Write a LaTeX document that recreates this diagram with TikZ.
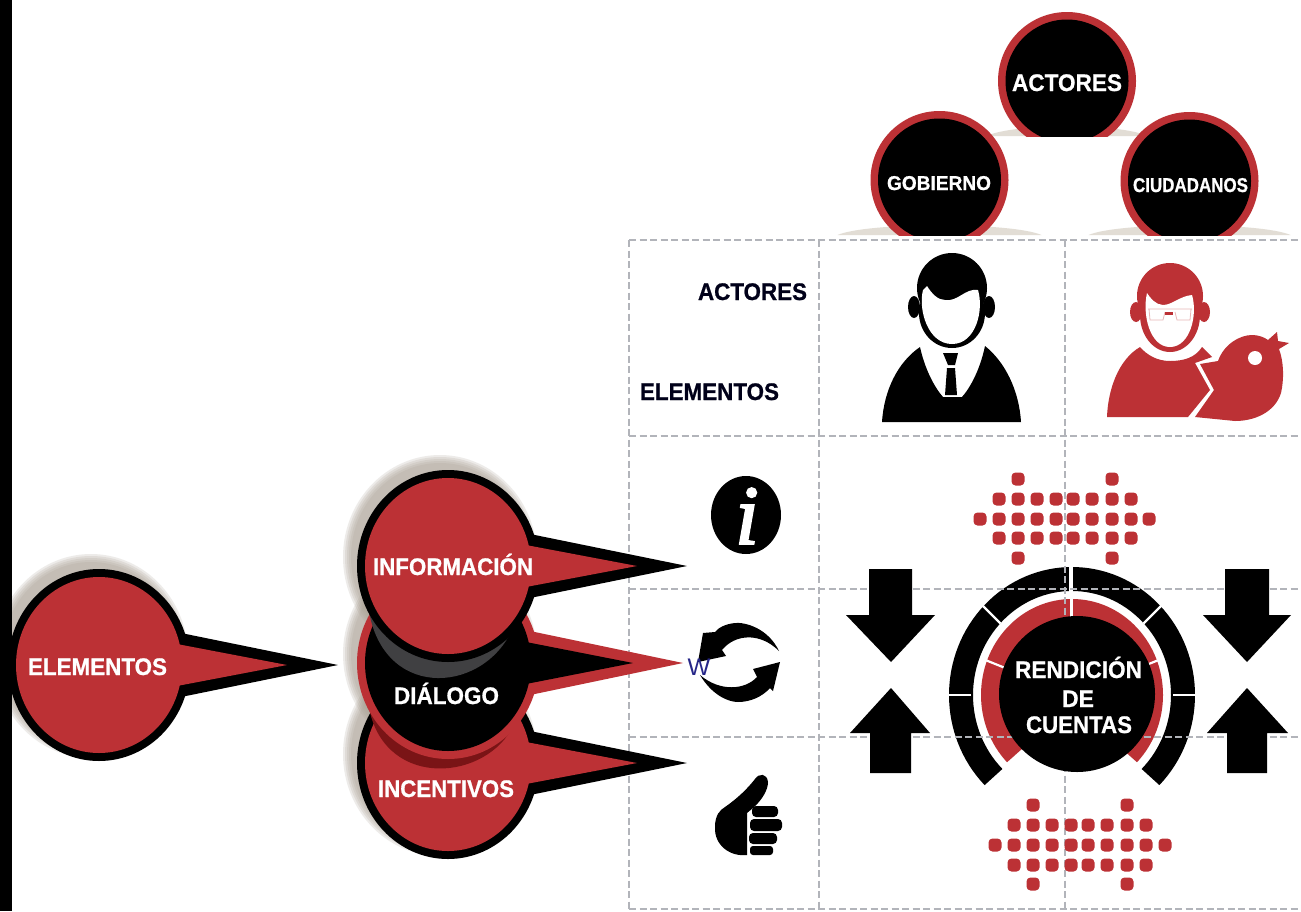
\documentclass[tikz,border=0pt]{standalone}
\usepackage{graphicx}
\usepackage{fontspec}
\usetikzlibrary{calc}
\setmainfont{Liberation Sans}[BoldFeatures={FakeBold=0.8}]
\newfontfamily\iconserif{Liberation Serif}[ItalicFeatures={FakeBold=2.5}]
\definecolor{rojo}{HTML}{BC3135}
\definecolor{rojoosc}{HTML}{7A1416}
\definecolor{grisosc}{HTML}{404042}
\definecolor{rejilla}{HTML}{B2B4BA}
\definecolor{sombra}{HTML}{A89F92}
\definecolor{base}{HTML}{E2DDD5}
% cx cy outer inner tipx innertipx
\newcommand\bubshadow[2]{%
  \foreach \d in {6,4,2,0,-2}{\fill[sombra,opacity=.2] ({#1-8},{#2-9}) ellipse [x radius={91+\d},y radius={96+\d}];}}
\newcommand\bubbody[6]{%
  \fill[#3] (#1,#2) ellipse [x radius=91,y radius=96];
  \fill[#3] ({#1+82},{#2-32}) -- (#5,#2) -- ({#1+82},{#2+32}) -- cycle;
  \fill[#4] (#1,#2) ellipse [x radius=83,y radius=88];
  \fill[#4] ({#1+78},{#2-21}) -- (#6,#2) -- ({#1+78},{#2+21}) -- cycle;}
\newcommand\fitw[2]{\resizebox{#1pt}{\height}{#2}}
\newcommand\topcirc[4]{% cx cy clipy base half-width
  \fill[base] ({#1-#4},#3) .. controls ({#1-#4+30},{#3-13}) and ({#1+#4-30},{#3-13}) .. ({#1+#4},#3) -- cycle;
  \begin{scope}
    \clip ({#1-80},0) rectangle ({#1+80},#3);
    \fill[rojo] (#1,#2) circle (69);
    \fill[black] (#1,#2) circle (61.5);
  \end{scope}}
\tikzset{
  lblw/.style={anchor=base,inner sep=0pt,text=white,font=\fontsize{#1}{#1}\selectfont\bfseries},
  lblk/.style={anchor=base,inner sep=0pt,text=black!90!blue,font=\fontsize{#1}{#1}\selectfont\bfseries},
  gridline/.style={draw=rejilla,line width=1.3pt,dash pattern=on 7pt off 3.5pt},
  dotcell/.style={fill=rojo,rounded corners=4pt},
  tick/.style={draw=white,line width=2.2pt},
}
\begin{document}
\begin{tikzpicture}[x=1pt,y=-1pt]
\useasboundingbox (0,0) rectangle (1301,911);
\fill[white] (0,0) rectangle (1301,911);

% gauge rings
\coordinate (gc) at (1072,695);
\draw[black,line width=24pt] ($(gc)+(135:111 and 116)$) arc [start angle=135,end angle=405,x radius=111,y radius=116];
\draw[rojo,line width=31pt] ($(gc)+(135:75.5 and 80.5)$) arc [start angle=135,end angle=405,x radius=75.5,y radius=80.5];
\foreach \a in {225,180,315,0}{\draw[tick] ($(gc)+(\a:101)$) -- ($(gc)+(\a:130)$);}
\draw[white,line width=4pt] (1071,566) -- (1071,594);
\draw[white,line width=3pt] (1071,596) -- (1071,630);
\foreach \a in {202,338}{\draw[tick] ($(gc)+(\a:60)$) -- ($(gc)+(\a:93)$);}

% grid
\foreach \y in {240,436,589,737,909}{\draw[gridline] (629,\y) -- (1301,\y);}
\foreach \x in {629,819,1065}{\draw[gridline] (\x,240) -- (\x,909);}

% central disc
\fill[black] (1077,694) circle (78);

% block arrows
\fill[black] (869,569) -- (912,569) -- (912,615) -- (935,615) -- (891,662) -- (846,615) -- (869,615) -- cycle;
\fill[black] (870,773) -- (911,773) -- (911,733) -- (930,733) -- (891,688) -- (850,733) -- (870,733) -- cycle;
\fill[black] (1225,569) -- (1269,569) -- (1269,615) -- (1291,615) -- (1247,662) -- (1203,615) -- (1225,615) -- cycle;
\fill[black] (1227,773) -- (1267,773) -- (1267,733) -- (1288,733) -- (1247,688) -- (1207,733) -- (1227,733) -- cycle;

% dot clusters
\foreach \x/\y in {1018/479,1112/479,
  999/499,1018/499,1037/499,1056/499,1073/499,1092/499,1112/499,1131/499,
  980/519,999/519,1018/519,1037/519,1056/519,1073/519,1092/519,1112/519,1131/519,1149/519,
  999/538,1018/538,1037/538,1056/538,1073/538,1092/538,1112/538,1131/538,
  1018/558,1112/558,
  1033/805,1127/805,
  1014/825,1033/825,1052/825,1071/825,1088/825,1107/825,1127/825,1146/825,
  995/845,1014/845,1033/845,1052/845,1071/845,1088/845,1107/845,1127/845,1146/845,1165/845,
  1014/865,1033/865,1052/865,1071/865,1088/865,1107/865,1127/865,1146/865,
  1033/884,1127/884}{
  \fill[dotcell] ({\x-6.5},{\y-6.5}) rectangle ({\x+6.5},{\y+6.5});
}

% top circles
\topcirc{1067}{81}{136}{81}
\topcirc{939.5}{180}{235}{102}
\topcirc{1189.5}{181}{235}{101}

% businessman
\fill[black] (914,307) ellipse [x radius=6,y radius=11];
\fill[black] (989,307) ellipse [x radius=6,y radius=11];
\fill[black] (952,288) circle (35);
\fill[black] (952,313) ellipse [x radius=33,y radius=35];
\fill[white] (927,286) .. controls (932,294) and (938,300) .. (945,300)
  .. controls (958,302) and (965,288) .. (978,290)
  .. controls (984,310) and (976,344) .. (952,344)
  .. controls (928,344) and (918,310) .. (923,290) -- cycle;
\fill[black] (920,347) .. controls (898,362) and (884,390) .. (882,422) -- (1021,422)
  .. controls (1019,390) and (1005,362) .. (985,346) .. controls (980,370) and (970,388) .. (962,397)
  -- (943,397) .. controls (935,388) and (925,370) .. (920,347) -- cycle;
\fill[black] (943,353) -- (958,353) -- (955,365) -- (948,365) -- cycle;
\fill[black] (947,368) -- (955,368) -- (957,395) -- (945,395) -- cycle;

% citizen
\fill[rojo] (1136,312) ellipse [x radius=6,y radius=10];
\fill[rojo] (1204,312) ellipse [x radius=6,y radius=10];
\fill[rojo] (1170,296) circle (33);
\fill[rojo] (1170,315) ellipse [x radius=30,y radius=37];
\fill[white] (1147,293) .. controls (1150,298) and (1156,305) .. (1163,305)
  .. controls (1172,305) and (1180,296) .. (1192,295)
  .. controls (1198,315) and (1190,347) .. (1170,347)
  .. controls (1150,347) and (1142,315) .. (1147,293) -- cycle;
\draw[rojo!35,line width=.8pt] (1148,309) -- (1192,309) (1149,309) -- (1150,320) -- (1163,320) -- (1165,312) (1191,309) -- (1190,320) -- (1177,320) -- (1175,312);
\fill[rojo] (1165,312) rectangle (1173,315);
\fill[rojo] (1140,347) .. controls (1118,360) and (1108,390) .. (1107,417) -- (1188,417) -- (1210,390) -- (1195,363) -- (1212,357) -- (1202,347)
  .. controls (1195,358) and (1183,361) .. (1170,361) .. controls (1157,361) and (1147,355) .. (1140,347) -- cycle;
\fill[rojo] (1200,364) -- (1218,361) .. controls (1224,344) and (1240,335) .. (1252,335)
  .. controls (1258,335) and (1264,337) .. (1268,340) -- (1277,332) -- (1278,341) -- (1289,343) -- (1279,349)
  .. controls (1284,362) and (1284,380) .. (1281,393) .. controls (1275,412) and (1255,421) .. (1235,421)
  -- (1195,417) -- (1214,390) -- cycle;
\fill[white] (1255,358) circle (7);

% info icon
\fill[black] (746,515) ellipse [x radius=35,y radius=39];
\node[inner sep=0pt,text=white,font=\iconserif\fontsize{84}{84}\selectfont\itshape] (infoi) at (747,516) {i};

% sync icon
\fill[black] (779,651) .. controls (768,628) and (745,622) .. (735,623) .. controls (725,624) and (718,628) .. (715,632)
  -- (703,633) -- (698,662) -- (726,656) -- (722,650) .. controls (735,634) and (760,632) .. (779,651) -- cycle;
\fill[black] (700,675) .. controls (712,695) and (728,702) .. (738,702) .. controls (750,702) and (762,697) .. (770,688)
  -- (773,691) -- (780,662) -- (753,669) -- (757,677) .. controls (745,690) and (720,692) .. (700,675) -- cycle;

% thumb icon
\fill[black] (747,855) .. controls (730,857) and (714,845) .. (715,827) .. controls (715,815) and (720,810) .. (725,807)
  .. controls (738,798) and (748,788) .. (755,779) .. controls (759,773) and (767,773) .. (768,782)
  .. controls (768,790) and (762,800) .. (753,808) -- (747,813) -- cycle;
\fill[black,rounded corners=4pt] (752,806) rectangle (778,817);
\fill[black,rounded corners=4pt] (750,819) rectangle (782,831);
\fill[black,rounded corners=4pt] (749,833) rectangle (777,844);
\fill[black,rounded corners=3pt] (750,846) rectangle (773,855);

% bubbles
\bubshadow{448}{763}
\bubshadow{448}{663}
\bubshadow{448}{566}
\bubshadow{99}{665}
\bubbody{448}{763}{black}{rojo}{687}{637}
\fill[rojoosc] (368,702) .. controls (380,788) and (480,783) .. (511,730) -- cycle;
\bubbody{448}{663}{rojo}{black}{683}{633}
\fill[grisosc] (368,605) .. controls (380,700) and (480,695) .. (511,632) -- cycle;
\bubbody{448}{566}{black}{rojo}{687}{637}
\bubbody{99}{665}{black}{rojo}{338}{287}

% left bar
\fill[black] (0,0) rectangle (12,911);

% texts
\node[lblw=24] (tactores) at (1067,91) {\fitw{110}{ACTORES}};
\node[lblw=20] (tgob) at (939,190) {\fitw{104}{GOBIERNO}};
\node[lblw=20] (tciu) at (1190.5,192) {\fitw{115}{CIUDADANOS}};
\node[lblk=24] (hact) at (752.5,300) {\fitw{109}{ACTORES}};
\node[lblk=24] (hele) at (709.5,400) {\fitw{139}{ELEMENTOS}};
\node[lblw=24] (tele) at (97.5,675) {\fitw{139}{ELEMENTOS}};
\node[lblw=24] (tinf) at (453,575) {\fitw{160}{INFORMACIÓN}};
\node[lblw=24] (tdia) at (446.5,704) {\fitw{105}{DIÁLOGO}};
\node[lblw=24] (tinc) at (446,797) {\fitw{136}{INCENTIVOS}};
\node[lblw=24] (tren) at (1078.5,678) {\fitw{127}{RENDICIÓN}};
\node[lblw=24] (tde) at (1078,707) {\fitw{32}{DE}};
\node[lblw=24] (tcue) at (1079,733) {\fitw{106}{CUENTAS}};
\node[anchor=base,inner sep=0pt,text=black!45!blue!70!gray,font=\fontsize{24}{24}\selectfont] (tw) at (699,675) {W};
\end{tikzpicture}
\end{document}
